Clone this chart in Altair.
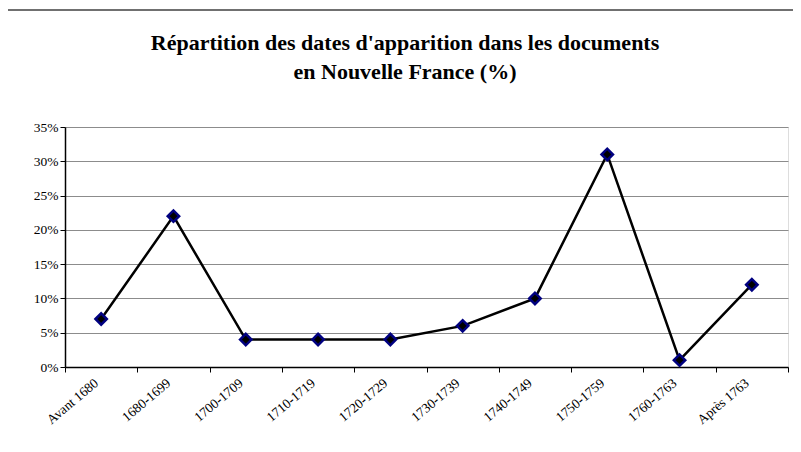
import altair as alt
import pandas as pd

categories = ["Avant 1680", "1680-1699", "1700-1709", "1710-1719", "1720-1729",
              "1730-1739", "1740-1749", "1750-1759", "1760-1763", "Après 1763"]
values = [0.07, 0.22, 0.04, 0.04, 0.04, 0.06, 0.10, 0.31, 0.01, 0.12]
title_lines = ["Répartition des dates d'apparition dans les documents",
               "en Nouvelle France (%)"]

df = pd.DataFrame({"cat": categories, "val": values})

FONT = "Liberation Serif"

x_enc = alt.X("cat:N", sort=categories, title=None,
              scale=alt.Scale(type="band", paddingInner=0, paddingOuter=0),
              axis=alt.Axis(labelAngle=320, labelAlign="right", labelBaseline="middle",
                            tickBand="extent", tickSize=5, tickColor="black",
                            domainColor="black", domainWidth=1.5,
                            labelFont=FONT, labelFontSize=13.5, labelColor="black",
                            labelPadding=9, labelOffset=-5, grid=False))
y_enc = alt.Y("val:Q", title=None,
              scale=alt.Scale(domain=[0, 0.35], nice=False),
              axis=alt.Axis(values=[0, 0.05, 0.10, 0.15, 0.20, 0.25, 0.30, 0.35],
                            format=".0%", tickSize=5, tickColor="black",
                            domainColor="black", domainWidth=1.5,
                            labelFont=FONT, labelFontSize=13.5, labelColor="black",
                            gridColor="#8c8c8c", gridWidth=1.2, gridOpacity=1))

base = alt.Chart(df)
line = base.mark_line(color="black", strokeWidth=2.5).encode(x=x_enc, y=y_enc)
pts = base.mark_point(shape="diamond", filled=True, fill="black", stroke="#000080",
                      strokeWidth=2.5, size=130, opacity=1).encode(x=x_enc, y=y_enc)

frame_left = alt.Chart(df).mark_rule(color="#707070", strokeWidth=1.5).encode(
    x=alt.value(-58), y=alt.value(-117), y2=alt.value(330))
frame_top = alt.Chart(df).mark_rule(color="#707070", strokeWidth=1.5).encode(
    x=alt.value(-58), x2=alt.value(740), y=alt.value(-117))

tdf = pd.DataFrame({"t": title_lines, "i": [0, 1]})
title1 = alt.Chart(tdf.iloc[[0]]).mark_text(
    font=FONT, fontSize=22, fontWeight="bold", color="black",
    align="center", baseline="middle").encode(
    text="t:N", x=alt.value(340), y=alt.value(-84))
title2 = alt.Chart(tdf.iloc[[1]]).mark_text(
    font=FONT, fontSize=22, fontWeight="bold", color="black",
    align="center", baseline="middle").encode(
    text="t:N", x=alt.value(340), y=alt.value(-55))

chart = alt.layer(line, pts, frame_left, frame_top, title1, title2).properties(
    width=723, height=240,
    autosize=alt.AutoSizeParams(type="none"),
    padding={"left": 57, "top": 119, "right": 5, "bottom": 70},
).configure_view(stroke="#999999", strokeWidth=2).configure(background="white")

chart.save("out.html", embed_options={"renderer": "svg", "actions": False})
